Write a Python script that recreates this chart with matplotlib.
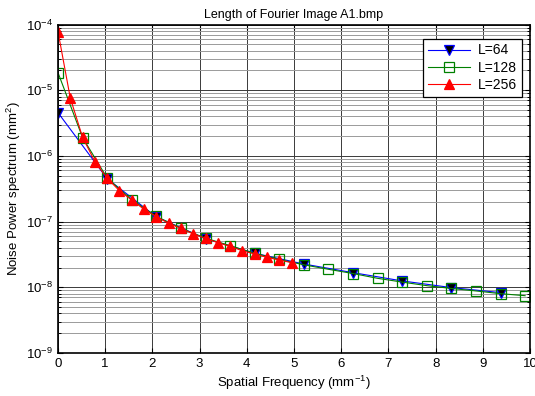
import numpy as np
import matplotlib
matplotlib.use("Agg")
import matplotlib.pyplot as plt
from matplotlib.ticker import LogLocator, FixedLocator, NullFormatter, LogFormatterSciNotation

plt.rcParams['font.family'] = ['Liberation Sans', 'DejaVu Sans']
plt.rcParams['mathtext.fontset'] = 'custom'
plt.rcParams['mathtext.rm'] = 'Liberation Sans'
plt.rcParams['mathtext.it'] = 'Liberation Sans:italic'
plt.rcParams['mathtext.bf'] = 'Liberation Sans:bold'

# Frequency step for each image length (pixel pitch 0.015 mm)
pixel_mm = 0.015
labels = ['L=64', 'L=128', 'L=256']
lengths = [64, 128, 256]

nps_64 = [4.55e-6, 4.5e-7, 1.18e-7, 5.5e-8, 3.3e-8, 2.26e-8, 1.67e-8, 1.25e-8,
          9.9e-9, 8.3e-9]
nps_128 = [1.85e-5, 1.9e-6, 4.6e-7, 2.15e-7, 1.2e-7, 7.9e-8, 5.6e-8, 4.3e-8,
           3.3e-8, 2.65e-8, 2.2e-8, 1.88e-8, 1.62e-8, 1.37e-8, 1.2e-8, 1.06e-8,
           9.6e-9, 8.8e-9, 8.0e-9, 7.45e-9]
nps_256 = [7.8e-5, 7.6e-6, 1.92e-6, 8.2e-7, 4.56e-7, 2.95e-7, 2.13e-7, 1.54e-7,
           1.19e-7, 9.4e-8, 7.9e-8, 6.5e-8, 5.57e-8, 4.78e-8, 4.2e-8, 3.6e-8,
           3.21e-8, 2.86e-8, 2.6e-8, 2.37e-8]
series = [nps_64, nps_128, nps_256]

styles = [
    dict(color='blue', marker='v', markerfacecolor='black', markeredgecolor='blue', markersize=7),
    dict(color='green', marker='s', markerfacecolor='none', markeredgecolor='green', markersize=6.5),
    dict(color='red', marker='^', markerfacecolor='red', markeredgecolor='red', markersize=7.5),
]

fig = plt.figure(figsize=(5.35, 3.96), dpi=100)
ax = fig.add_axes([0.1084, 0.1086, 0.8823, 0.8295])

for L, vals, lab, st in zip(lengths, series, labels, styles):
    f = np.arange(len(vals)) / (L * pixel_mm)
    ax.plot(f, vals, lw=0.8, label=lab, markeredgewidth=0.9, **st)

ax.set_yscale('log')
ax.set_xlim(0, 10)
ax.set_ylim(1e-9, 1e-4)
ax.xaxis.set_major_locator(FixedLocator(np.arange(0, 11)))
ax.yaxis.set_major_locator(LogLocator(base=10, numticks=10))
ax.yaxis.set_minor_locator(LogLocator(base=10, subs=np.arange(2, 10), numticks=20))
ax.yaxis.set_minor_formatter(NullFormatter())
ax.yaxis.set_major_formatter(LogFormatterSciNotation())

ax.grid(True, which='major', axis='both', color='#3a3a3a', lw=0.7)
ax.grid(True, which='minor', axis='y', color='#9a9a9a', lw=0.7)
ax.set_axisbelow(True)

ax.tick_params(which='both', direction='in', top=True, right=True, labelsize=9.5)
ax.tick_params(which='major', length=3.5, width=0.8)
ax.tick_params(which='minor', length=2, width=0.7)
for sp in ax.spines.values():
    sp.set_linewidth(1.2)

ax.set_title('Length of Fourier Image A1.bmp', fontsize=9, pad=5)
ax.set_xlabel('Spatial Frequency (mm$^{-1}$)', fontsize=9.5, labelpad=3)
ax.set_ylabel('Noise Power spectrum (mm$^{2}$)', fontsize=9.5, labelpad=2)

leg = ax.legend(loc='upper right', fontsize=10, fancybox=False, framealpha=1,
                edgecolor='black', handlelength=3.0, borderpad=0.35,
                labelspacing=0.25, handletextpad=0.6,
                bbox_to_anchor=(0.9975, 0.9785))
leg.get_frame().set_linewidth(0.9)

fig.savefig('out.png', dpi=100)
